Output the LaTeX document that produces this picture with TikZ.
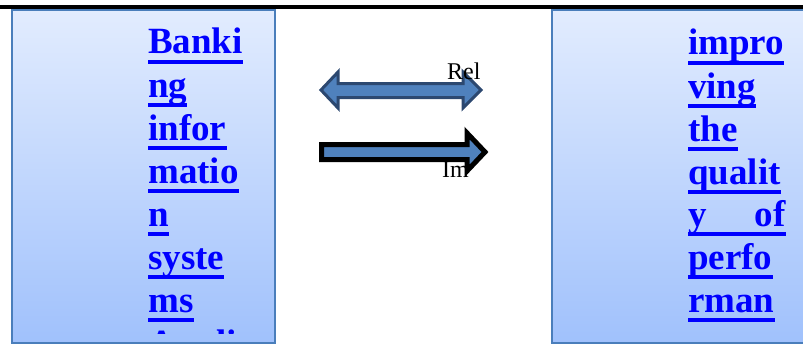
\documentclass[tikz,border=0pt]{standalone}
\usepackage{fontspec}
\setmainfont{Liberation Serif}
\begin{document}
\begin{tikzpicture}[x=1pt,y=-1pt,
  boxstyle/.style={top color={rgb,255:red,226;green,236;blue,254},bottom color={rgb,255:red,160;green,193;blue,252},draw={rgb,255:red,74;green,126;blue,187},line width=2pt},
  lt/.style={anchor=base west,inner sep=0pt,font=\fontsize{37}{37}\selectfont\bfseries,text={rgb,255:red,0;green,0;blue,255}},
  ult/.style={fill={rgb,255:red,0;green,0;blue,255}},
  arrfill/.style={fill={rgb,255:red,79;green,129;blue,189},line join=miter},
  lab/.style={anchor=base west,inner sep=0pt,font=\fontsize{24}{24}\selectfont}
]
\useasboundingbox (0,0) rectangle (803,345);
\newcommand\ulbar[1]{\fill[ult] ([yshift=-6pt]#1.base west) rectangle ([yshift=-10pt]#1.base east);}
% top rule
\fill[black] (0,5) rectangle (803,9);
% boxes
\path[boxstyle] (12,10) rectangle (275,343);
\path[boxstyle] (552,10) rectangle (812,343);
% left text
\begin{scope}
\clip (13,11) rectangle (274,333);
\node[lt] (l1) at (148,54) {Banki};
\node[lt] (l2) at (148,97) {ng};
\node[lt] (l3) at (148,140) {infor};
\node[lt] (l4) at (148,183) {matio};
\node[lt] (l5) at (148,226) {n};
\node[lt] (l6) at (148,269) {syste};
\node[lt] (l7) at (148,312) {ms};
\node[lt] (l8) at (148,355) {Appli};
\foreach \n in {l1,l2,l3,l4,l5,l6,l7,l8} {\ulbar{\n}}
\end{scope}
% right text
\begin{scope}
\clip (553,11) rectangle (803,333);
\node[lt] (r1) at (688,55) {impro};
\node[lt] (r2) at (688,98) {ving};
\node[lt] (r3) at (688,141) {the};
\node[lt] (r4) at (688,184) {qualit};
\node[lt] (r5a) at (688,226) {y};
\node[lt,anchor=base east] (r5b) at (786,226) {of};
\node[lt] (r6) at (688,269) {perfo};
\node[lt] (r7) at (688,312) {rman};
\foreach \n in {r1,r2,r3,r4,r6,r7} {\ulbar{\n}}
\fill[ult] ([yshift=-6pt]r5a.base west) rectangle ([yshift=-10pt]r5b.base east);
\end{scope}
% double arrow
\draw[arrfill,draw={rgb,255:red,44;green,72;blue,112},line width=3pt]
  (321,90) -- (338,72) -- (338,83.5) -- (463,83.5) -- (463,72) -- (481,90)
  -- (463,108) -- (463,97.5) -- (338,97.5) -- (338,108) -- cycle;
% single arrow
\draw[arrfill,draw=black,line width=5pt]
  (321.5,144.5) -- (467,144.5) -- (467,133) -- (485,152) -- (467,171)
  -- (467,159.5) -- (321.5,159.5) -- cycle;
% labels
\node[lab] (rel) at (447,80) {Rel};
\node[lab] (im) at (442,177) {Im};
\end{tikzpicture}
\end{document}
